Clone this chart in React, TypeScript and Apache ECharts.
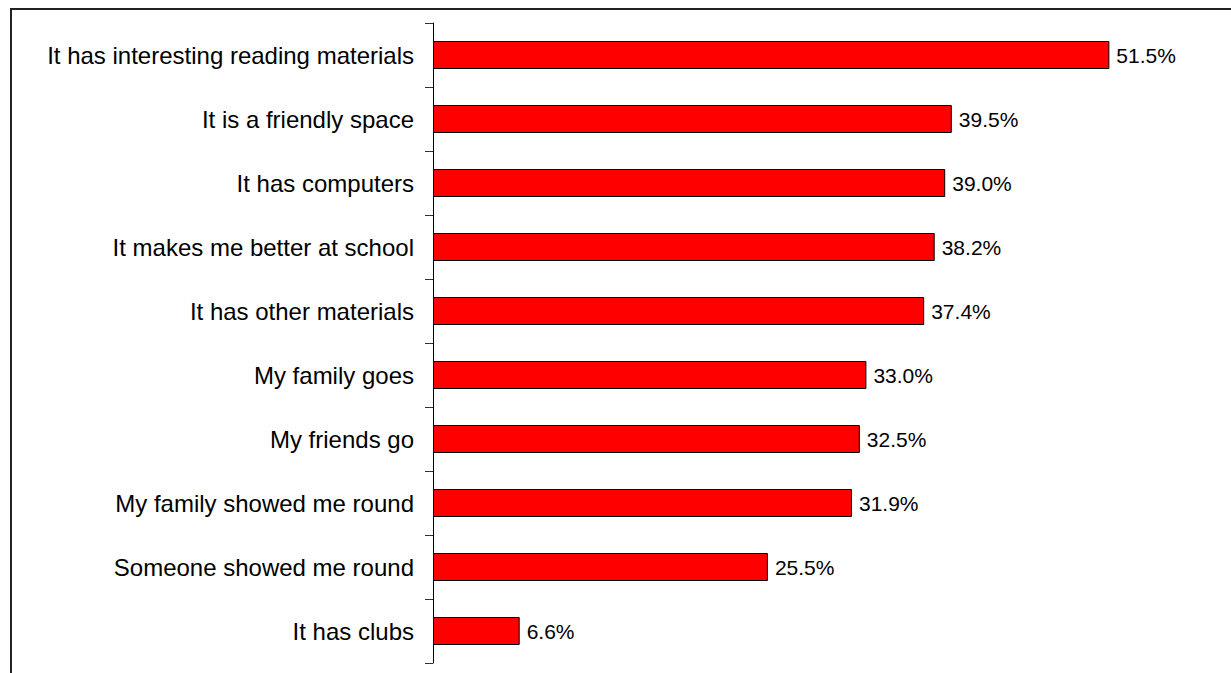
import React, { useEffect, useRef } from "react";
import * as echarts from "echarts";

const categories = [
  "It has interesting reading materials",
  "It is a friendly space",
  "It has computers",
  "It makes me better at school",
  "It has other materials",
  "My family goes",
  "My friends go",
  "My family showed me round",
  "Someone showed me round",
  "It has clubs",
];
const values = [51.5, 39.5, 39.0, 38.2, 37.4, 33.0, 32.5, 31.9, 25.5, 6.6];

export default function App() {
  const ref = useRef<HTMLDivElement>(null);
  useEffect(() => {
    if (!ref.current) return;
    const chart = echarts.init(ref.current, undefined, { renderer: "svg" });
    chart.setOption({
      animation: false,
      backgroundColor: "#ffffff",
      grid: { left: 433, top: 23, height: 640, width: 788, containLabel: false },
      xAxis: {
        type: "value",
        min: 0,
        max: 60,
        show: false,
      },
      yAxis: {
        type: "category",
        inverse: true,
        data: categories,
        axisLine: { show: true, lineStyle: { color: "#000", width: 1 } },
        axisTick: { show: true, length: 8, lineStyle: { color: "#333" } },
        axisLabel: {
          margin: 19,
          fontSize: 24,
          color: "#000",
          fontFamily: "Liberation Sans, Arial, sans-serif",
        },
        splitLine: { show: false },
      },
      series: [
        {
          type: "bar",
          data: values,
          barWidth: 28,
          itemStyle: {
            color: "#ff0000",
            borderColor: "#000",
            borderWidth: 1,
          },
          label: {
            show: true,
            position: "right",
            distance: 7,
            fontSize: 21,
            color: "#000",
            fontFamily: "Liberation Sans, Arial, sans-serif",
            formatter: (p: any) => Number(p.value).toFixed(1) + "%",
          },
        },
      ],
      graphic: [
        {
          type: "polyline",
          shape: { points: [[11, 673], [11, 9], [1231, 9]] },
          style: { stroke: "#222", lineWidth: 2, fill: "none" },
          silent: true,
        },
      ],
    });
    return () => chart.dispose();
  }, []);
  return (
    <div
      ref={ref}
      style={{ position: "fixed", left: 0, top: 0, width: 1231, height: 673 }}
    />
  );
}
